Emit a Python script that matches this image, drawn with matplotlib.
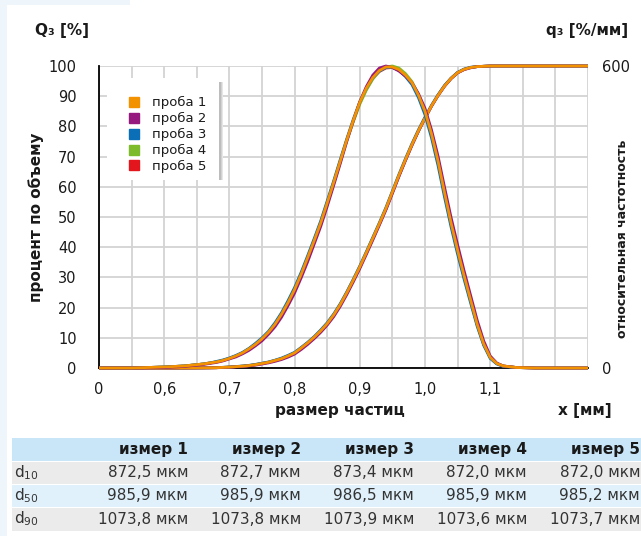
import matplotlib
matplotlib.use("Agg")
import matplotlib.pyplot as plt
from matplotlib.patches import Rectangle
from matplotlib.lines import Line2D

W, H = 641, 536

# particle size, mm
x_mm = [0.50, 0.55, 0.60, 0.63,
        0.66, 0.67, 0.68, 0.69, 0.70, 0.71, 0.72, 0.73, 0.74, 0.75, 0.76, 0.77,
        0.78, 0.79, 0.80, 0.81, 0.82, 0.83, 0.84, 0.85, 0.86, 0.87, 0.88, 0.89,
        0.90,
        0.91, 0.92, 0.93, 0.94, 0.95, 0.96, 0.97, 0.98, 0.99,
        1.00, 1.01, 1.02, 1.03, 1.04, 1.05, 1.06, 1.07, 1.08, 1.09, 1.10, 1.11,
        1.12,
        1.14, 1.17, 1.20, 1.25]

# cumulative Q3, %
Q3_1 = [0, 0, 0, 0,
        0.05, 0.07, 0.1, 0.2, 0.3, 0.45, 0.6, 0.8, 1.1, 1.5, 1.9, 2.5, 3.1, 4.0, 5.0,
        6.6, 8.3, 10.2, 12.3, 14.7, 17.6, 21.0, 24.9, 29.1, 33.5,
        38.2, 43.0, 47.8, 52.8, 58.3, 63.8, 69.0, 74.0, 78.6,
        82.8, 86.8, 90.3, 93.4, 95.9, 97.8, 98.9, 99.5, 99.8, 99.9, 100, 100, 100,
        100, 100, 100, 100]
Q3_2 = [0, 0, 0, 0,
        0.04, 0.06, 0.08, 0.15, 0.25, 0.38, 0.5, 0.7, 0.95, 1.3, 1.7, 2.2, 2.8, 3.6,
        4.6, 6.1, 7.8, 9.7, 11.8, 14.2, 17.0, 20.4, 24.3, 28.5, 32.9,
        37.6, 42.4, 47.3, 52.3, 57.8, 63.4, 68.7, 73.7, 78.4,
        82.7, 86.7, 90.2, 93.3, 95.8, 97.7, 98.8, 99.4, 99.8, 99.9, 100, 100, 100,
        100, 100, 100, 100]
Q3_3 = [0, 0, 0, 0,
        0.05, 0.08, 0.12, 0.22, 0.33, 0.5, 0.66, 0.88, 1.2, 1.6, 2.0, 2.6, 3.3, 4.2,
        5.2, 6.8, 8.5, 10.4, 12.6, 15.0, 17.9, 21.3, 25.2, 29.4, 33.8,
        38.5, 43.3, 48.1, 53.1, 58.6, 64.1, 69.3, 74.3, 78.9,
        83.1, 87.0, 90.5, 93.6, 96.0, 97.9, 99.0, 99.6, 99.8, 99.9, 100, 100, 100,
        100, 100, 100, 100]
Q3_4 = [0, 0, 0, 0,
        0.05, 0.07, 0.1, 0.2, 0.3, 0.45, 0.6, 0.8, 1.1, 1.5, 1.9, 2.5, 3.1, 4.0, 5.0,
        6.6, 8.2, 10.1, 12.2, 14.6, 17.5, 20.9, 24.8, 29.0, 33.4,
        38.1, 42.9, 47.7, 52.7, 58.2, 63.7, 68.9, 73.9, 78.5,
        82.8, 86.8, 90.3, 93.4, 95.9, 97.8, 98.9, 99.5, 99.8, 99.9, 100, 100, 100,
        100, 100, 100, 100]
Q3_5 = [0, 0, 0, 0,
        0.05, 0.07, 0.1, 0.2, 0.3, 0.45, 0.6, 0.8, 1.1, 1.5, 1.9, 2.5, 3.1, 4.0, 5.0,
        6.6, 8.3, 10.2, 12.3, 14.7, 17.6, 21.0, 24.9, 29.1, 33.4,
        38.1, 42.9, 47.7, 52.6, 58.1, 63.6, 68.8, 73.9, 78.5,
        82.7, 86.7, 90.3, 93.4, 95.9, 97.8, 98.9, 99.5, 99.8, 99.9, 100, 100, 100,
        100, 100, 100, 100]

# density q3, %/mm
q3_1 = [0, 0, 2, 4,
        8, 10, 12, 15, 19, 24, 30, 38, 47, 58, 71, 87, 107, 130, 156, 186, 219, 253,
        288, 328, 369, 411, 453, 492, 528,
        556, 577, 591, 598, 598, 593, 582, 567, 542,
        510, 465, 411, 348, 288, 234, 183, 135, 87, 48, 21, 9, 4,
        1, 0, 0, 0]
q3_2 = [0, 0, 1, 3,
        7, 9, 11, 14, 18, 22, 28, 35, 44, 54, 67, 82, 101, 124, 149, 179, 211, 246,
        281, 321, 363, 406, 450, 491, 529,
        559, 582, 596, 600, 597, 590, 580, 567, 545,
        516, 473, 421, 359, 299, 245, 193, 144, 95, 54, 24, 10, 4,
        1, 0, 0, 0]
q3_3 = [0, 0, 2, 4,
        8, 10, 13, 16, 20, 25, 31, 39, 49, 60, 73, 90, 110, 134, 160, 190, 223, 257,
        292, 332, 372, 414, 455, 494, 529,
        556, 577, 590, 597, 597, 591, 579, 563, 537,
        503, 457, 402, 339, 280, 226, 176, 129, 83, 45, 19, 8, 3,
        1, 0, 0, 0]
q3_4 = [0, 0, 2, 4,
        8, 10, 12, 15, 19, 24, 30, 38, 47, 58, 71, 87, 106, 129, 155, 185, 218, 252,
        287, 327, 367, 409, 451, 489, 524,
        552, 574, 590, 598, 600, 596, 585, 569, 543,
        511, 465, 411, 348, 288, 234, 183, 135, 87, 48, 21, 9, 4,
        1, 0, 0, 0]
q3_5 = [0, 0, 2, 4,
        8, 10, 12, 15, 19, 24, 30, 38, 47, 58, 71, 87, 107, 130, 156, 186, 219, 253,
        288, 328, 369, 411, 453, 491, 527,
        554, 576, 589, 596, 597, 592, 581, 566, 541,
        509, 464, 410, 347, 287, 233, 182, 134, 86, 47, 21, 9, 4,
        1, 0, 0, 0]

samples = ["проба 1", "проба 2", "проба 3", "проба 4", "проба 5"]
colors = ["#F39200", "#95197F", "#0B6FB8", "#7DBA2C", "#E3161E"]
Q3 = [Q3_1, Q3_2, Q3_3, Q3_4, Q3_5]
q3 = [q3_1, q3_2, q3_3, q3_4, q3_5]

x_ticks = [0.50, 0.55, 0.60, 0.65, 0.70, 0.75, 0.80, 0.85, 0.90, 0.95, 1.00, 1.05,
           1.10, 1.15, 1.20, 1.25]
x_ticklabels = ["0", "", "0,6", "", "0,7", "", "0,8", "", "0,9", "", "1,0", "",
                "1,1", "", "", ""]

# table
col_names = ["измер 1", "измер 2", "измер 3", "измер 4", "измер 5"]
row_names = ["d$_{10}$", "d$_{50}$", "d$_{90}$"]
d10 = [872.5, 872.7, 873.4, 872.0, 872.0]
d50 = [985.9, 985.9, 986.5, 985.9, 985.2]
d90 = [1073.8, 1073.8, 1073.9, 1073.6, 1073.7]

plt.rcParams["font.family"] = ["DejaVu Sans"]
TXT = "#1a1a1a"

fig = plt.figure(figsize=(W / 100, H / 100), dpi=100)


def px_rect(x0, y0, x1, y1, color):
    fig.add_artist(Rectangle((x0 / W, 1 - y1 / H), (x1 - x0) / W, (y1 - y0) / H,
                             transform=fig.transFigure, facecolor=color,
                             edgecolor="none", zorder=0))


def px_text(x, y, s, **kw):
    fig.text(x / W, 1 - y / H, s, color=kw.pop("color", TXT), **kw)


# page background strips
px_rect(0, 0, 7, H, "#EEF5FB")
px_rect(0, 0, 130, 5, "#EEF5FB")

ax = fig.add_axes([99 / W, 1 - 368 / H, (588 - 99) / W, (368 - 66) / H])
ax2 = ax.twinx()

for i in range(4, -1, -1):
    ax.plot(x_mm, Q3[i], color=colors[i], lw=2.0, zorder=5 - i * 0.1, clip_on=False,
            solid_capstyle="butt")
    ax2.plot(x_mm, q3[i], color=colors[i], lw=2.0, zorder=5 - i * 0.1, clip_on=False,
             solid_capstyle="butt")

ax.set_xlim(0.5, 1.25)
ax.set_ylim(0, 100)
ax2.set_ylim(0, 600)
ax.set_xticks(x_ticks)
ax.set_xticklabels(x_ticklabels)
ax.set_yticks(range(0, 101, 10))
ax2.set_yticks([0, 600])
ax.grid(True, color="#D3D3D3", lw=1.3)
ax.set_axisbelow(True)
ax.tick_params(axis="y", length=0, pad=16, labelsize=10.5, labelcolor=TXT)
ax.tick_params(axis="x", length=0, pad=10, labelsize=10.5, labelcolor=TXT)
ax2.tick_params(axis="y", length=0, pad=10, labelsize=10.5, labelcolor=TXT)
for s in ("top", "right"):
    ax.spines[s].set_visible(False)
for s in ax2.spines.values():
    s.set_visible(False)
ax.spines["left"].set_color("black")
ax.spines["bottom"].set_color("black")
ax.spines["left"].set_linewidth(1.3)
ax.spines["bottom"].set_linewidth(1.3)

# legend box with soft shadow on the right
lx0, lx1 = (107 - 99) / 489, (219 - 99) / 489
ly1, ly0 = (368 - 78) / 302, (368 - 180) / 302
for k, g in enumerate(["#E6E6E6", "#D2D2D2", "#BDBDBD"]):
    ax.add_patch(Rectangle((lx0 + 0.008 - k * 0.002, ly0), lx1 - lx0,
                           ly1 - ly0 - 0.012, transform=ax.transAxes,
                           facecolor=g, edgecolor="none", zorder=2.5 + k * 0.01))
ax.add_patch(Rectangle((lx0, ly0), lx1 - lx0, ly1 - ly0, transform=ax.transAxes,
                       facecolor="white", edgecolor="none", zorder=2.6))
handles = [Line2D([], [], marker="s", ls="none", ms=7, color=c) for c in colors]
leg = ax.legend(handles, samples, loc="upper left",
                bbox_to_anchor=(lx0 + 0.02, ly1 - 0.025), frameon=False,
                fontsize=9.5, labelspacing=0.22, handlelength=1.0,
                handletextpad=0.9, borderpad=0.3, labelcolor=TXT)
leg.set_zorder(3)

# axis titles
px_text(35, 30, "Q₃ [%]", fontsize=11, fontweight="bold", va="center", ha="left")
px_text(628, 30, "q₃ [%/мм]", fontsize=11, fontweight="bold", va="center", ha="right")
px_text(36, 217, "процент по объему", fontsize=11, fontweight="bold", rotation=90,
        va="center", ha="center")
px_text(623, 239, "относительная частотность", fontsize=9, fontweight="bold",
        rotation=90, va="center", ha="center")
px_text(340, 410, "размер частиц", fontsize=11, fontweight="bold", va="center",
        ha="center")
px_text(612, 410, "x [мм]", fontsize=11, fontweight="bold", va="center", ha="right")

# results table
px_rect(12, 438, W, 461, "#C8E6F8")
px_rect(12, 462, W, 484, "#EBEBEB")
px_rect(12, 485, W, 507, "#E0F1FC")
px_rect(12, 508, W, 531, "#EBEBEB")
col_right = [188, 301, 414, 527, 640]
row_y = [472.5, 495.5, 519]
for j, name in enumerate(col_names):
    px_text(col_right[j], 449.5, name, fontsize=11, fontweight="bold", ha="right",
            va="center")
for i, (lab, vals) in enumerate(zip(row_names, [d10, d50, d90])):
    px_text(14, row_y[i], lab, fontsize=11, ha="left", va="center", color="#333333")
    for j, v in enumerate(vals):
        px_text(col_right[j], row_y[i], f"{v:.1f}".replace(".", ",") + " мкм",
                fontsize=11, ha="right", va="center", color="#333333")

fig.savefig("out.png", dpi=100)
